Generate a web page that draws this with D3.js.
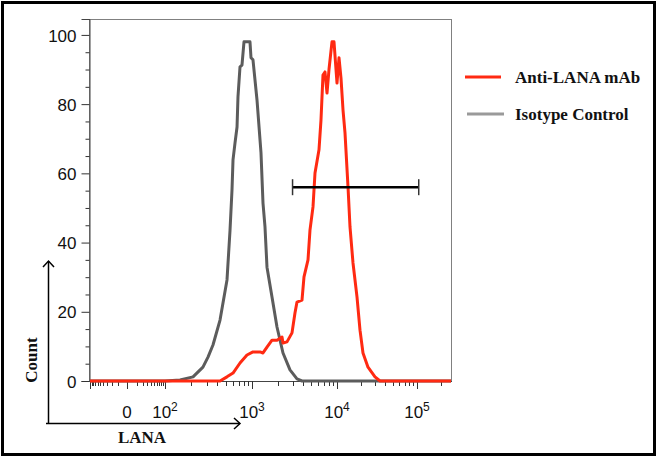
<!doctype html>
<html>
<head>
<style>
  body { margin: 0; background: #fff; }
  .tick-lbl { font-family: "Liberation Sans", Arial, sans-serif; font-size: 17px; fill: #111; }
  .bold-serif { font-family: "Liberation Serif", "Times New Roman", serif; font-weight: bold; font-size: 17px; fill: #111; }
</style>
<script src="https://d3js.org/d3.v7.min.js"></script>
</head>
<body>
<svg width="657" height="457"></svg>
<script>
// isotype control histogram (LANA intensity, count)
var isoX = [-100, 100, 149, 210, 273, 312, 356, 429, 516, 559, 589, 605, 638, 673, 690, 728, 767, 809, 948, 974,
            1027, 1145, 1276, 1347, 1422, 1501, 1719, 1968, 2316, 2799, 3383, 3875, 262143]
var isoY = [0, 0, 0.3, 1.2, 4.0, 6.9, 10.4, 17.6, 29.2, 43.6, 55.2, 63.9, 68.8, 73.4, 82.1, 90.8, 91.3, 98, 98, 93.4,
            92.8, 81.2, 65.9, 51.4, 44.5, 32.9, 24.3, 15.6, 8.1, 3.2, 0.6, 0, 0]

// anti-LANA mAb histogram
var antiX = [-100, 429, 516, 605, 728, 876, 1027, 1242, 1347, 1501, 1719, 1968, 2254, 2316, 2581, 2955, 3206, 3383, 3875, 4090,
             4560, 4810, 5220, 5510, 6140, 6480, 6840, 7220, 7630, 8050, 8730, 9220, 10000, 10590, 11220, 11890, 12590, 13730, 14540, 15850,
             17780, 19390, 21130, 24410, 29850, 34470, 262143]
var antiY = [0, 0, 1.2, 2.3, 5.2, 7.5, 8.4, 8.4, 8.1, 9.8, 11.8, 11.8, 12.7, 11.0, 11.3, 13.9, 19.7, 22.8, 23.4, 30.1,
             35.0, 43.6, 50.3, 60.1, 66.8, 75.4, 88.4, 89.3, 83.2, 90, 98, 98, 86.1, 93.4, 87.5, 78.3, 71.7, 56.1, 44.5, 34.1,
             24.3, 14.7, 8.1, 4.0, 1.2, 0, 0]

// gate marker
var gateRange = [3000, 105000]
var gateCount = 56

// axis ticks
var xMajor = [-100, 0, 100, 1000, 10000, 100000]
var xLabelVals = [0, 100, 1000, 10000, 100000]
var xLabelBase = ["0", "10", "10", "10", "10"]
var xLabelExp = ["", "2", "3", "4", "5"]
var xMinor = [-90, -80, -70, -60, -50, -40, -30, -20, -10, 10, 20, 30, 40, 50, 60, 70, 80, 90,
              200, 300, 400, 500, 600, 700, 800, 900, 2000, 3000, 4000, 5000, 6000, 7000, 8000, 9000,
              20000, 30000, 40000, 50000, 60000, 70000, 80000, 90000, 200000]
var yMajor = [0, 20, 40, 60, 80, 100]
var yMinor = [5, 10, 15, 25, 30, 35, 45, 50, 55, 65, 70, 75, 85, 90, 95]

var legendNames = ["Anti-LANA mAb", "Isotype Control"]
var legendColors = ["#ff2a12", "#9a9a9a"]

var svg = d3.select("svg")

var plot = {left: 89, top: 19, right: 451, bottom: 381}

// biexponential-like x: symlog near zero, log above 100
var xLow = d3.scaleSymlog().constant(15).domain([-100, 0, 100]).range([90, 127, 165])
var xHigh = d3.scaleLog().domain([100, 1000, 10000, 100000, 262143]).range([165, 252, 337, 417, 451])
var x = function(v) { return v < 100 ? xLow(v) : xHigh(v) }

var y = d3.scaleLinear().domain([0, 104.6]).range([plot.bottom, plot.top])

// outer border
svg.append("rect")
   .attr("x", 2.5).attr("y", 2.5).attr("width", 652).attr("height", 452)
   .attr("fill", "none").attr("stroke", "#000").attr("stroke-width", 3)

// plot frame
svg.append("rect")
   .attr("x", plot.left + 0.5).attr("y", plot.top + 0.5)
   .attr("width", plot.right - plot.left).attr("height", plot.bottom - plot.top)
   .attr("fill", "none").attr("stroke", "#808080").attr("stroke-width", 1)

// y axis
var gy = svg.append("g").attr("transform", "translate(" + (plot.left + 0.5) + ",0)")
gy.call(d3.axisLeft(y).tickValues(yMajor).tickSize(8).tickPadding(5))
gy.selectAll("text").attr("class", "tick-lbl").attr("font-size", null).attr("font-family", null).attr("dy", "0.36em")
gy.select(".domain").attr("stroke", "#444")
gy.selectAll(".tick line").attr("stroke", "#333")

var gy2 = svg.append("g").attr("transform", "translate(" + (plot.left + 0.5) + ",0)")
gy2.call(d3.axisLeft(y).tickValues(yMinor).tickSize(4).tickFormat(""))
gy2.select(".domain").remove()
gy2.selectAll(".tick line").attr("stroke", "#333")

// x axis
var gx = svg.append("g")
gx.append("line")
  .attr("x1", plot.left).attr("x2", plot.right + 1)
  .attr("y1", plot.bottom + 0.5).attr("y2", plot.bottom + 0.5)
  .attr("stroke", "#444")
gx.selectAll(".xmaj").data(xMajor).enter().append("line")
  .attr("x1", function(d) { return Math.round(x(d)) + 0.5 }).attr("x2", function(d) { return Math.round(x(d)) + 0.5 })
  .attr("y1", plot.bottom).attr("y2", plot.bottom + 8)
  .attr("stroke", "#333")
gx.selectAll(".xmin").data(xMinor).enter().append("line")
  .attr("x1", function(d) { return Math.round(x(d)) + 0.5 }).attr("x2", function(d) { return Math.round(x(d)) + 0.5 })
  .attr("y1", plot.bottom).attr("y2", plot.bottom + 5)
  .attr("stroke", "#333")

var lbl = gx.selectAll(".xl").data(xLabelVals).enter().append("text")
  .attr("class", "tick-lbl")
  .attr("x", function(d) { return x(d) })
  .attr("y", 418)
  .attr("text-anchor", "middle")
lbl.append("tspan").text(function(d, i) { return xLabelBase[i] })
lbl.append("tspan")
   .attr("dy", -7)
   .attr("font-size", 12)
   .text(function(d, i) { return xLabelExp[i] })

// histograms
var line = d3.line()
  .x(function(d) { return x(d[0]) })
  .y(function(d) { return y(d[1]) })

svg.append("path")
   .datum(d3.zip(isoX, isoY))
   .attr("d", line)
   .attr("fill", "none")
   .attr("stroke", "#5c5c5c")
   .attr("stroke-width", 3)
   .attr("stroke-linejoin", "round")

svg.append("path")
   .datum(d3.zip(antiX, antiY))
   .attr("d", line)
   .attr("fill", "none")
   .attr("stroke", legendColors[0])
   .attr("stroke-width", 3)
   .attr("stroke-linejoin", "round")

// gate bar
var gg = svg.append("g")
gg.append("line")
  .attr("x1", x(gateRange[0])).attr("x2", x(gateRange[1]))
  .attr("y1", y(gateCount)).attr("y2", y(gateCount))
  .attr("stroke", "#000").attr("stroke-width", 2.5)
gg.selectAll(".cap").data(gateRange).enter().append("line")
  .attr("x1", function(d) { return x(d) }).attr("x2", function(d) { return x(d) })
  .attr("y1", y(gateCount) - 8).attr("y2", y(gateCount) + 8)
  .attr("stroke", "#333").attr("stroke-width", 1.5)

// legend
var lg = svg.selectAll(".leg").data(legendNames).enter().append("g")
  .attr("transform", function(d, i) { return "translate(465," + (77 + i * 37) + ")" })
lg.append("line")
  .attr("x1", function(d, i) { return i * 2 }).attr("x2", function(d, i) { return 36 + i * 3 })
  .attr("y1", 0).attr("y2", 0)
  .attr("stroke", function(d, i) { return legendColors[i] })
  .attr("stroke-width", 3)
lg.append("text")
  .attr("class", "bold-serif")
  .attr("x", 50).attr("y", 6)
  .text(function(d) { return d })

// axis arrows
var ax = svg.append("g").attr("stroke", "#000").attr("stroke-width", 1.5).attr("fill", "none")
ax.append("path").attr("d", "M48.5,423.5 V261")
ax.append("path").attr("d", "M43,267 L48.5,261 L54,267")
ax.append("path").attr("d", "M46,423.5 H240")
ax.append("path").attr("d", "M234,418 L240,423.5 L234,429")

svg.append("text")
   .attr("class", "bold-serif")
   .attr("transform", "translate(37,360) rotate(-90)")
   .attr("text-anchor", "middle")
   .text("Count")

svg.append("text")
   .attr("class", "bold-serif")
   .attr("x", 142).attr("y", 443)
   .attr("text-anchor", "middle")
   .text("LANA")
</script>
</body>
</html>
